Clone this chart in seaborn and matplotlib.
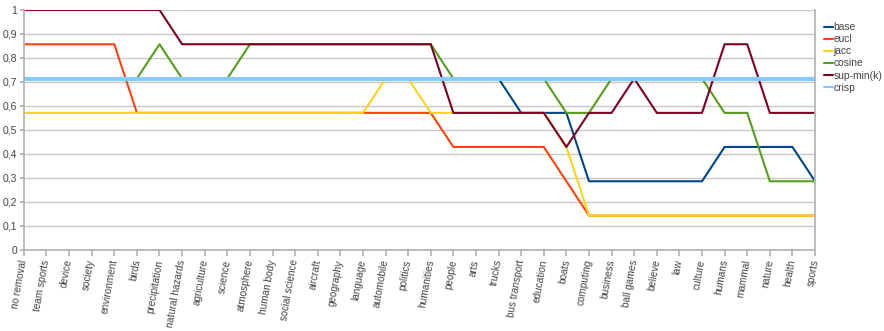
import matplotlib
matplotlib.use('Agg')
import matplotlib.pyplot as plt
import pandas as pd
import seaborn as sns

categories = ['no removal', 'team sports', 'device', 'society', 'environment', 'birds',
              'precipitation', 'natural hazards', 'agriculture', 'science', 'atmosphere',
              'human body', 'social science', 'aircraft', 'geography', 'language',
              'automobile', 'politics', 'humanities', 'people', 'arts', 'trucks',
              'bus transport', 'education', 'boats', 'computing', 'business', 'ball games',
              'believe', 'law', 'culture', 'humans', 'mammal', 'nature', 'health', 'sports']

base = [0.714] * 22 + [0.571, 0.571, 0.571] + [0.286] * 6 + [0.429] * 4 + [0.286]
eucl = [0.857] * 5 + [0.571] * 14 + [0.429] * 5 + [0.286] + [0.143] * 11
jacc = [0.571] * 16 + [0.714, 0.714] + [0.571] * 6 + [0.429] + [0.143] * 11
cosine = ([0.714] * 6 + [0.857] + [0.714] * 3 + [0.857] * 9 + [0.714] * 5
          + [0.571, 0.571] + [0.714] * 5 + [0.571, 0.571] + [0.286] * 3)
supmin = ([1.0] * 7 + [0.857] * 12 + [0.571] * 5 + [0.429] + [0.571, 0.571, 0.714]
          + [0.571] * 3 + [0.857, 0.857] + [0.571] * 3)
crisp = [0.712] * 36

series = {'base': base, 'eucl': eucl, 'jacc': jacc, 'cosine': cosine,
          'sup-min(k)': supmin, 'crisp': crisp}
colors = {'base': '#004586', 'eucl': '#ff420e', 'jacc': '#ffd320',
          'cosine': '#579d1c', 'sup-min(k)': '#7e0021', 'crisp': '#83caff'}

rows = []
for name, vals in series.items():
    for i, v in enumerate(vals):
        rows.append({'idx': i, 'value': v, 'series': name})
df = pd.DataFrame(rows)

sns.set_theme(style="white")
plt.rcParams['font.family'] = ['Liberation Sans', 'DejaVu Sans']
fig = plt.figure(figsize=(8.84, 3.31), dpi=100)
ax = fig.add_axes([0.027, 0.245, 0.895, 0.725])

sns.lineplot(data=df, x='idx', y='value', hue='series', palette=colors,
             hue_order=list(series.keys()), linewidth=1.5, ax=ax, legend=False)
# crisp is thicker and sits on top of the 0.71 lines
ax.lines[-1].set_linewidth(3.0)

ax.set_xlim(0, len(categories) - 1)
ax.set_ylim(0, 1)
ax.set_yticks([i / 10 for i in range(11)])
ax.set_yticklabels(['0'] + [f'0,{i}' for i in range(1, 10)] + ['1'], fontsize=7.5, color='#444444')
ax.set_xticks(range(len(categories)))
ax.set_xticklabels(categories, rotation=80, ha='right', va='center',
                   rotation_mode='anchor', fontsize=7.2, color='#444444')
ax.tick_params(axis='x', length=4, color='#b3b3b3', pad=3, bottom=True)
ax.tick_params(axis='y', length=3, color='#b3b3b3', pad=2, left=True)
ax.set_xlabel('')
ax.set_ylabel('')
ax.yaxis.grid(True, color='#c8c8c8', linewidth=1)
ax.set_axisbelow(True)
for side in ['left', 'bottom', 'right']:
    ax.spines[side].set_color('#b3b3b3')
ax.spines['top'].set_visible(False)

handles = [plt.Line2D([], [], color=colors[n], linewidth=1.5) for n in series]
fig.legend(handles, list(series.keys()), loc='upper left', bbox_to_anchor=(0.928, 0.945),
           frameon=False, fontsize=7.4, handlelength=0.8, handletextpad=0.1,
           labelspacing=0.2, borderaxespad=0, labelcolor='#444444')

plt.savefig('out.png', dpi=100)
